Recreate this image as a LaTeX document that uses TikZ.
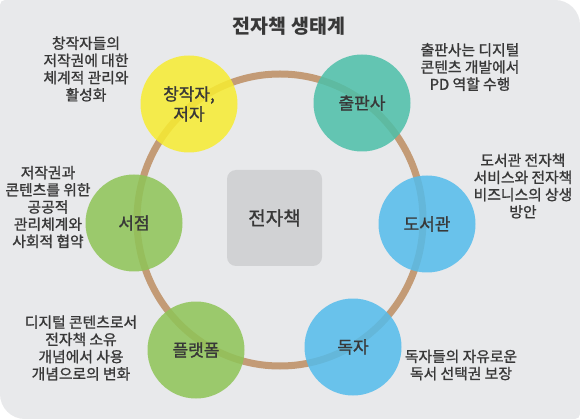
\documentclass[tikz,border=0pt]{standalone}
\usepackage{fontspec}
\setmainfont{Noto Sans CJK KR}
\newfontfamily\krmed[FakeBold=1.2]{Noto Sans CJK KR}
\definecolor{bgc}{HTML}{E8E9EB}
\definecolor{ringc}{HTML}{C39B76}
\definecolor{txt}{HTML}{383838}
\definecolor{yel}{HTML}{F7EC32}
\definecolor{teal}{HTML}{4EC0A9}
\definecolor{grn}{HTML}{8FC458}
\definecolor{blu}{HTML}{55BCEB}
\definecolor{boxc}{HTML}{D1D2D4}
\tikzset{
  bubble/.style={circle, minimum size=97pt, inner sep=0pt, fill opacity=0.86, text opacity=1,
    text=txt, align=center, font=\krmed\fontsize{17}{20}\selectfont},
  note/.style={text=txt, align=center, inner sep=0pt, font=\krmed\fontsize{14.8}{17.2}\selectfont},
}
\begin{document}
\begin{tikzpicture}[x=1pt,y=-1pt]
\useasboundingbox (0,0) rectangle (580,419);
\fill[white] (0,0) rectangle (580,419);
\fill[bgc] (0pt,-5pt) arc[start angle=180,end angle=90,radius=5pt] -- (555pt,0pt)
  arc[start angle=90,end angle=0,radius=25pt] -- (580pt,-414pt)
  arc[start angle=0,end angle=-90,radius=5pt] -- (25pt,-419pt)
  arc[start angle=270,end angle=180,radius=25pt] -- cycle;
\node[text=txt, font=\fontsize{19.5}{22}\selectfont\bfseries] (title) at (289,26) {전자책 생태계};
\node[fill=boxc, rounded corners=9pt, minimum width=95pt, minimum height=96pt, text=txt,
  font=\krmed\fontsize{19}{22}\selectfont] (ebook) at (274.5,218) {전자책};
\draw[ringc, line width=7pt] (280,220) ellipse [x radius=143, y radius=146];
\node[bubble, fill=yel] (creator) at (189,104) {창작자,\\저자};
\node[bubble, fill=teal] (publisher) at (362,103) {출판사};
\node[bubble, fill=grn] (store) at (134,223) {서점};
\node[bubble, fill=blu] (library) at (427,224) {도서관};
\node[bubble, fill=grn] (platform) at (196,350) {플랫폼};
\node[bubble, fill=blu] (reader) at (353,347) {독자};
\node[note] (n1) at (86,69) {창작자들의\\저작권에 대한\\체계적 관리와\\활성화};
\node[note] (n2) at (470,67) {출판사는 디지털\\콘텐츠 개발에서\\PD 역할 수행};
\node[note] (n3) at (48,207) {저작권과\\콘텐츠를 위한\\공공적\\관리체계와\\사회적 협약};
\node[note] (n4) at (523,186) {도서관 전자책\\서비스와 전자책\\비즈니스의 상생\\방안};
\node[note] (n5) at (81,348) {디지털 콘텐츠로서\\전자책 소유\\개념에서 사용\\개념으로의 변화};
\node[note] (n6) at (461,365) {독자들의 자유로운\\독서 선택권 보장};
\end{tikzpicture}
\end{document}
